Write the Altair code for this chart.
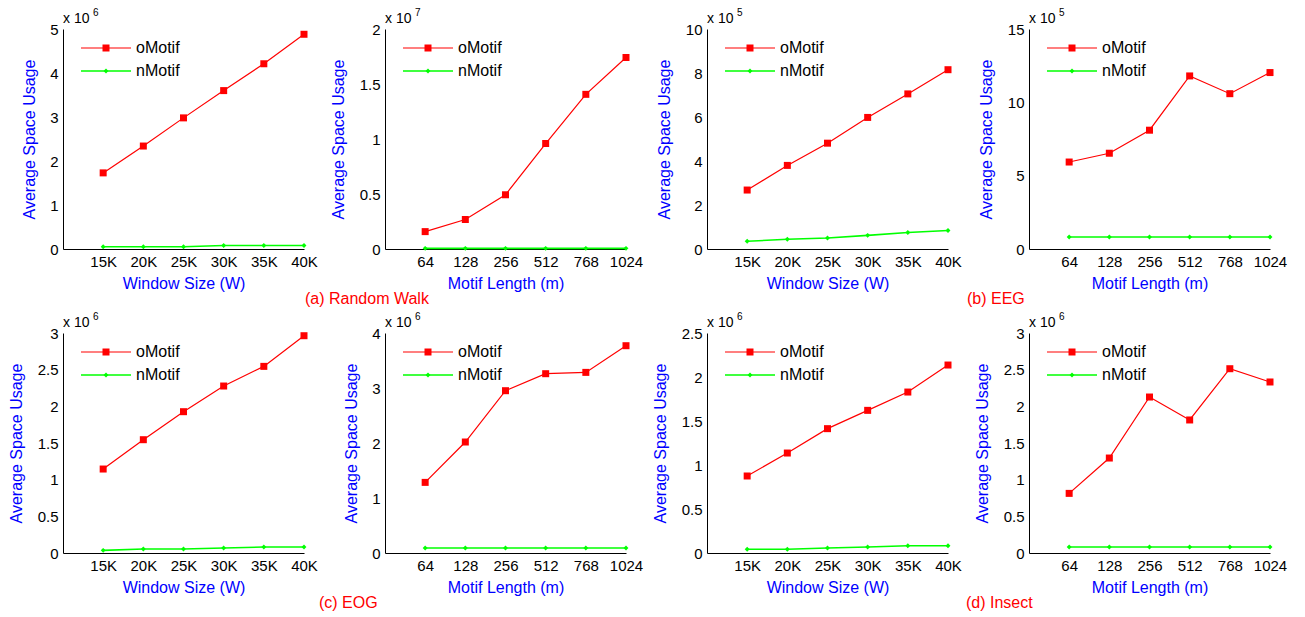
import json
import altair as alt
import pandas as pd

# ---------------- data ----------------
SERIES = ["oMotif", "nMotif"]
SERIES_COLORS = ["#ff0000", "#00ff00"]

WINDOW_LABELS = ["15K", "20K", "25K", "30K", "35K", "40K"]
MOTIF_LABELS = ["64", "128", "256", "512", "768", "1024"]
POSITIONS = [1, 2, 3, 4, 5, 6]

# (a) Random Walk
rw_window_o = [1.73, 2.34, 2.98, 3.60, 4.21, 4.88]          # x 10^6
rw_window_n = [0.05, 0.05, 0.05, 0.08, 0.08, 0.08]
rw_motif_o = [0.158, 0.268, 0.493, 0.959, 1.406, 1.741]     # x 10^7
rw_motif_n = [0.006, 0.006, 0.006, 0.006, 0.006, 0.006]
# (b) EEG
eeg_window_o = [2.68, 3.80, 4.81, 5.98, 7.05, 8.15]         # x 10^5
eeg_window_n = [0.35, 0.44, 0.50, 0.62, 0.75, 0.84]
eeg_motif_o = [5.93, 6.53, 8.10, 11.80, 10.59, 12.03]       # x 10^5
eeg_motif_n = [0.82, 0.82, 0.82, 0.82, 0.82, 0.82]
# (c) EOG
eog_window_o = [1.145, 1.545, 1.927, 2.277, 2.545, 2.963]   # x 10^6
eog_window_n = [0.036, 0.055, 0.055, 0.068, 0.082, 0.082]
eog_motif_o = [1.284, 2.018, 2.951, 3.260, 3.284, 3.769]    # x 10^6
eog_motif_n = [0.09, 0.09, 0.09, 0.09, 0.09, 0.09]
# (d) Insect
ins_window_o = [0.875, 1.136, 1.413, 1.621, 1.829, 2.136]   # x 10^6
ins_window_n = [0.042, 0.042, 0.057, 0.068, 0.083, 0.083]
ins_motif_o = [0.813, 1.295, 2.127, 1.814, 2.513, 2.332]    # x 10^6
ins_motif_n = [0.082, 0.082, 0.082, 0.082, 0.082, 0.082]

TICKS_RW_W = [0, 1, 2, 3, 4, 5]
TICKS_RW_M = [0, 0.5, 1, 1.5, 2]
TICKS_EEG_W = [0, 2, 4, 6, 8, 10]
TICKS_EEG_M = [0, 5, 10, 15]
TICKS_EOG_W = [0, 0.5, 1, 1.5, 2, 2.5, 3]
TICKS_EOG_M = [0, 1, 2, 3, 4]
TICKS_INS_W = [0, 0.5, 1, 1.5, 2, 2.5]
TICKS_INS_M = [0, 0.5, 1, 1.5, 2, 2.5, 3]

CAPTIONS = ["(a) Random Walk", "(b) EEG", "(c) EOG", "(d) Insect"]
X_TITLE_W = "Window Size (W)"
X_TITLE_M = "Motif Length (m)"
Y_TITLE = "Average Space Usage"

# ---------------- style ----------------
FONT = "Liberation Sans"
W, H = 241, 220
LINE_WIDTHS = [1.2, 1.6]
MARKER_SHAPES = ["square", "diamond"]
MARKER_SIZES = [49, 24]
LEGEND_ROWS = [19, 42]


def make_panel(o_vals, n_vals, xlabels, xtitle, exponent, yticks, caption=None, caption_x=0):
    df = pd.DataFrame({
        "pos": POSITIONS + POSITIONS,
        "category": xlabels + xlabels,
        "value": o_vals + n_vals,
        "series": [SERIES[0]] * 6 + [SERIES[1]] * 6,
    })
    label_expr = json.dumps(xlabels) + "[datum.value - 1]"
    x = alt.X("pos:Q", scale=alt.Scale(domain=[0, 6], nice=False, zero=False),
              axis=alt.Axis(values=POSITIONS, labelExpr=label_expr, title=xtitle, labelFlush=False))
    y = alt.Y("value:Q", scale=alt.Scale(domain=[0, yticks[-1]], nice=False),
              axis=alt.Axis(values=yticks, format="~r", title=Y_TITLE))
    color = alt.Color("series:N", scale=alt.Scale(domain=SERIES, range=SERIES_COLORS), legend=None)

    base = alt.Chart(df)
    layers = []
    for s, sw in zip(SERIES, LINE_WIDTHS):
        layers.append(base.transform_filter(alt.datum.series == s)
                      .mark_line(strokeWidth=sw)
                      .encode(x=x, y=y, color=color))
    for s, shp, sz in zip(SERIES, MARKER_SHAPES, MARKER_SIZES):
        layers.append(base.transform_filter(alt.datum.series == s)
                      .mark_point(shape=shp, size=sz, filled=True, opacity=1, strokeWidth=0)
                      .encode(x=x, y=y, color=color))

    # in-plot legend
    leg = alt.Chart(pd.DataFrame({"series": SERIES}))
    for s, ry, sw, shp, sz in zip(SERIES, LEGEND_ROWS, LINE_WIDTHS, MARKER_SHAPES, MARKER_SIZES):
        sub = leg.transform_filter(alt.datum.series == s)
        layers.append(sub.mark_rule(strokeWidth=sw).encode(
            x=alt.value(18), x2=alt.value(68), y=alt.value(ry), color=color))
        layers.append(sub.mark_point(shape=shp, size=sz, filled=True, opacity=1, strokeWidth=0).encode(
            x=alt.value(43), y=alt.value(ry), color=color))
        layers.append(sub.mark_text(align="left", baseline="middle", fontSize=16, font=FONT,
                                    color="#000000").encode(
            x=alt.value(73), y=alt.value(ry), text="series:N"))

    # exponent label
    ex = alt.Chart(pd.DataFrame({"base": ["x 10"], "exp": [str(exponent)]}))
    layers.append(ex.mark_text(align="left", baseline="alphabetic", fontSize=14, font=FONT,
                               color="#000000").encode(x=alt.value(0), y=alt.value(-6), text="base:N"))
    layers.append(ex.mark_text(align="left", baseline="alphabetic", fontSize=10, font=FONT,
                               color="#000000").encode(x=alt.value(30), y=alt.value(-13), text="exp:N"))

    if caption:
        cap = alt.Chart(pd.DataFrame({"caption": [caption]}))
        layers.append(cap.mark_text(align="left", baseline="middle", fontSize=16, font=FONT,
                                    color="#ff0000").encode(
            x=alt.value(caption_x), y=alt.value(270), text="caption:N"))

    return alt.layer(*layers).properties(width=W, height=H)


panels = [
    make_panel(rw_window_o, rw_window_n, WINDOW_LABELS, X_TITLE_W, 6, TICKS_RW_W, CAPTIONS[0], 242),
    make_panel(rw_motif_o, rw_motif_n, MOTIF_LABELS, X_TITLE_M, 7, TICKS_RW_M),
    make_panel(eeg_window_o, eeg_window_n, WINDOW_LABELS, X_TITLE_W, 5, TICKS_EEG_W, CAPTIONS[1], 260),
    make_panel(eeg_motif_o, eeg_motif_n, MOTIF_LABELS, X_TITLE_M, 5, TICKS_EEG_M),
    make_panel(eog_window_o, eog_window_n, WINDOW_LABELS, X_TITLE_W, 6, TICKS_EOG_W, CAPTIONS[2], 256),
    make_panel(eog_motif_o, eog_motif_n, MOTIF_LABELS, X_TITLE_M, 6, TICKS_EOG_M),
    make_panel(ins_window_o, ins_window_n, WINDOW_LABELS, X_TITLE_W, 6, TICKS_INS_W, CAPTIONS[3], 259),
    make_panel(ins_motif_o, ins_motif_n, MOTIF_LABELS, X_TITLE_M, 6, TICKS_INS_M),
]

chart = (
    alt.concat(*panels, columns=4, spacing={"row": 84, "column": 81}, bounds="flush")
    .properties(padding={"left": 0, "top": 0, "right": 5, "bottom": 5})
    .configure_view(stroke=None)
    .configure_axis(
        labelFont=FONT, labelFontSize=15, labelColor="#000000",
        titleFont=FONT, titleFontSize=16, titleFontWeight="normal", titleColor="#0000ff",
        domainColor="#000000", domainWidth=1, ticks=False, tickSize=0, grid=False,
    )
    .configure_axisX(labelPadding=5, titlePadding=6)
    .configure_axisY(labelPadding=5, titlePadding=12.5)
)

chart.save("out.html", embed_options={"renderer": "svg", "actions": False})
